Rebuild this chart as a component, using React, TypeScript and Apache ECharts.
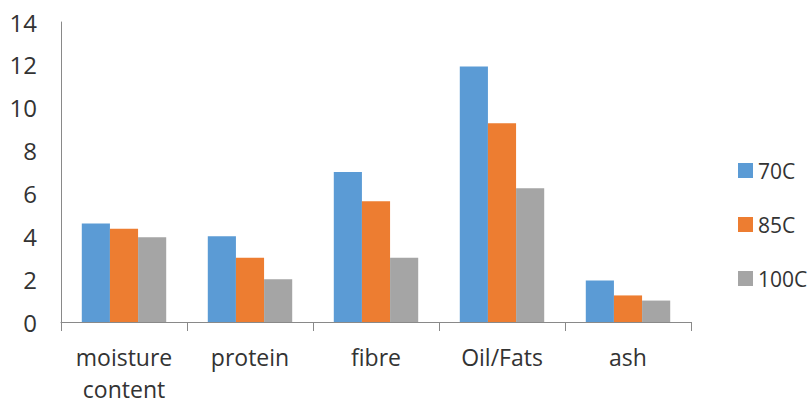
import React, { useEffect, useRef } from "react";
import * as echarts from "echarts";

const categories = ["moisture\ncontent", "protein", "fibre", "Oil/Fats", "ash"];
const seriesNames = ["70C", "85C", "100C"];
const values70 = [4.6, 4.0, 7.0, 11.92, 1.94];
const values85 = [4.35, 3.0, 5.64, 9.27, 1.24];
const values100 = [3.95, 2.0, 3.0, 6.24, 1.0];
const colors = ["#5B9BD5", "#ED7D31", "#A5A5A5"];

const FONT = "'Open Sans', 'Noto Sans', sans-serif";

export default function App() {
  const ref = useRef<HTMLDivElement>(null);
  useEffect(() => {
    document.body.style.margin = "0";
    const chart = echarts.init(ref.current!, null, { renderer: "svg" });
    const data = [values70, values85, values100];
    chart.setOption({
      animation: false,
      backgroundColor: "#ffffff",
      textStyle: { fontFamily: FONT },
      grid: { left: 61, right: 121, top: 22, bottom: 77, containLabel: false },
      legend: {
        orient: "vertical",
        left: 733,
        top: 155,
        itemWidth: 15,
        itemHeight: 15,
        itemGap: 33,
        icon: "rect",
        data: seriesNames,
        textStyle: { fontSize: 21, color: "#333333", fontFamily: FONT, lineHeight: 15 },
      },
      xAxis: {
        type: "category",
        data: categories,
        axisLine: { show: true, lineStyle: { color: "#898989", width: 1 } },
        axisTick: { show: true, length: 9, lineStyle: { color: "#898989" } },
        axisLabel: {
          fontSize: 23,
          color: "#333333",
          fontFamily: FONT,
          lineHeight: 32,
          margin: 19,
          interval: 0,
        },
      },
      yAxis: {
        type: "value",
        min: 0,
        max: 14,
        interval: 2,
        splitLine: { show: false },
        axisLine: { show: true, lineStyle: { color: "#898989", width: 1 } },
        axisTick: { show: false },
        axisLabel: { fontSize: 24, color: "#333333", fontFamily: FONT, margin: 24 },
      },
      series: seriesNames.map((name, i) => ({
        name,
        type: "bar",
        data: data[i],
        barGap: "0%",
        barCategoryGap: "33%",
        itemStyle: { color: colors[i] },
      })),
    });
    return () => chart.dispose();
  }, []);
  return (
    <div
      ref={ref}
      style={{ position: "absolute", left: 0, top: 0, width: 812, height: 405 }}
    />
  );
}
